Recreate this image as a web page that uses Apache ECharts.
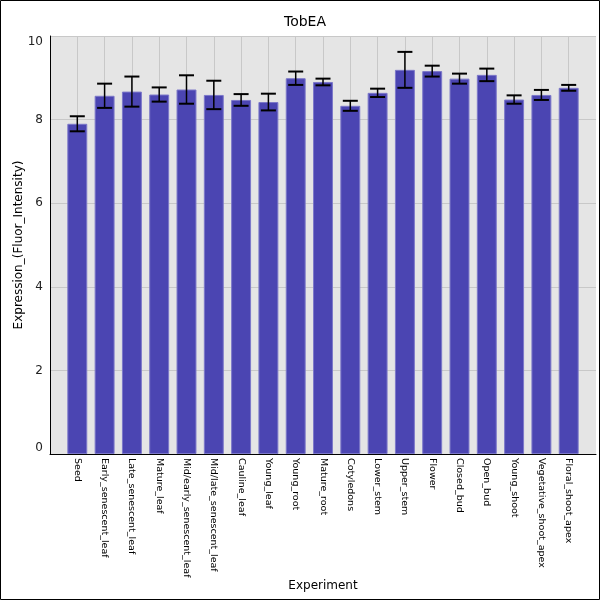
<!DOCTYPE html>
<html>
<head>
<meta charset="utf-8">
<script src="https://cdn.jsdelivr.net/npm/echarts@6/dist/echarts.min.js"></script>
<style>
  html, body { margin: 0; padding: 0; background: #fff; }
  #chart { width: 600px; height: 600px; }
</style>
</head>
<body>
<div id="chart"></div>
<script>
const categories = [
  "Seed", "Early_senescent_leaf", "Late_senescent_leaf", "Mature_leaf",
  "Mid/early_senescent_leaf", "Mid/late_senescent_leaf", "Cauline_leaf",
  "Young_leaf", "Young_root", "Mature_root", "Cotyledons", "Lower_stem",
  "Upper_stem", "Flower", "Closed_bud", "Open_bud", "Young_shoot",
  "Vegetative_shoot_apex", "Floral_shoot_apex",
];
const means = [
  7.90, 8.57, 8.67, 8.60, 8.72, 8.59, 8.47, 8.42, 8.99, 8.90,
  8.33, 8.64, 9.19, 9.16, 8.98, 9.07, 8.48, 8.59, 8.76,
];
const errors = [
  0.18, 0.29, 0.36, 0.17, 0.34, 0.34, 0.14, 0.20, 0.16, 0.08,
  0.12, 0.10, 0.43, 0.13, 0.12, 0.15, 0.10, 0.12, 0.07,
];
const yTicks = [0, 2, 4, 6, 8, 10];

const createBarChart = ({ chartDom, title }) => {
  const myChart = echarts.init(chartDom);
  const font = "DejaVu Sans";

  myChart.setOption({
    animation: false,
    backgroundColor: "#fff",
    textStyle: { fontFamily: font },
    title: {
      text: title,
      left: 300,
      textAlign: "center",
      top: 10,
      textStyle: { fontFamily: font, fontSize: 14, fontWeight: "normal", color: "#000" },
    },
    graphic: [
      {
        type: "rect",
        shape: { x: 0.5, y: 0.5, width: 599, height: 599 },
        style: { fill: null, stroke: "#000", lineWidth: 1 },
        z: 100,
      },
    ],
    grid: {
      left: 50,
      right: 4,
      top: 36,
      bottom: 146,
      show: true,
      backgroundColor: "#e5e5e5",
      borderWidth: 0,
      outerBoundsMode: "none",
    },
    // index axis with half a slot of padding at both ends
    xAxis: {
      type: "value",
      min: -1,
      max: categories.length,
      interval: 1,
      name: "Experiment",
      nameLocation: "middle",
      nameGap: 126,
      nameMoveOverlap: false,
      nameTextStyle: { fontFamily: font, fontSize: 12, color: "#000" },
      axisLine: { show: true, onZero: false, lineStyle: { color: "#000", width: 1 } },
      axisTick: { show: false },
      axisLabel: {
        rotate: -90,
        margin: 4,
        fontSize: 9.5,
        color: "#000",
        fontFamily: font,
        showMinLabel: true,
        showMaxLabel: true,
        formatter: (v) => categories[v] || "",
      },
      splitLine: {
        show: true,
        showMinLine: false,
        showMaxLine: false,
        lineStyle: { color: "#c8c8c8", width: 1 },
      },
    },
    yAxis: {
      type: "value",
      min: yTicks[0],
      max: yTicks[yTicks.length - 1],
      interval: 2,
      name: "Expression_(Fluor_Intensity)",
      nameLocation: "middle",
      nameGap: 25,
      nameMoveOverlap: false,
      nameTextStyle: { fontFamily: font, fontSize: 12, color: "#000" },
      axisLine: { show: true, onZero: false, lineStyle: { color: "#000", width: 1 } },
      axisTick: { show: false },
      axisLabel: {
        fontSize: 12,
        color: "#222",
        margin: 7,
        fontFamily: font,
        verticalAlign: "middle",
        verticalAlignMinLabel: "bottom",
        verticalAlignMaxLabel: "top",
      },
      splitLine: { show: true, lineStyle: { color: "#c8c8c8", width: 1 } },
    },
    series: [
      {
        type: "bar",
        data: means.map((m, i) => [i, m]),
        barWidth: "73%",
        itemStyle: {
          color: "#4b45b2",
          borderColor: "#7c78c9",
          borderWidth: 1,
        },
        z: 2,
      },
      {
        type: "custom",
        data: means.map((m, i) => [i, m - errors[i], m + errors[i]]),
        renderItem: (params, api) => {
          const lo = api.coord([api.value(0), api.value(1)]);
          const hi = api.coord([api.value(0), api.value(2)]);
          const half = 7.5;
          const style = { stroke: "#000", lineWidth: 2 };
          return {
            type: "group",
            children: [
              { type: "line", shape: { x1: hi[0], y1: hi[1], x2: lo[0], y2: lo[1] }, style: { stroke: "#000", lineWidth: 1.5 } },
              { type: "line", shape: { x1: hi[0] - half, y1: hi[1], x2: hi[0] + half, y2: hi[1] }, style },
              { type: "line", shape: { x1: lo[0] - half, y1: lo[1], x2: lo[0] + half, y2: lo[1] }, style },
            ],
          };
        },
        z: 10,
      },
    ],
  });
  return myChart;
};

createBarChart({ chartDom: document.getElementById("chart"), title: "TobEA" });
</script>
</body>
</html>
